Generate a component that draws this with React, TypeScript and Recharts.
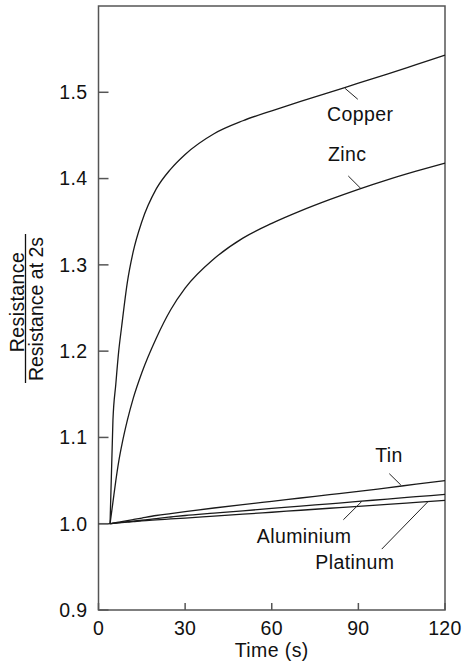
import {
  LineChart,
  Line,
  XAxis,
  YAxis,
  ReferenceArea,
  ReferenceLine,
  ReferenceDot,
} from "recharts";

// time in seconds, shared by every series
const times = [0, 4, 5, 6, 7, 8, 10, 12, 15, 20, 25, 30, 40, 50, 60, 70, 80, 90, 100, 110, 120];

// flat lead-in before the samples start to change
const baseline = [1.0, 1.0, null, null, null, null, null, null, null, null, null, null, null, null, null, null, null, null, null, null, null];
const copper = [null, 1.0, 1.12, 1.162, 1.2, 1.228, 1.28, 1.315, 1.35, 1.388, 1.411, 1.428, 1.452, 1.467, 1.4785, 1.4895, 1.5, 1.5105, 1.521, 1.532, 1.543];
const zinc = [null, 1.0, 1.025, 1.05, 1.072, 1.09, 1.12, 1.145, 1.175, 1.215, 1.248, 1.273, 1.307, 1.331, 1.348, 1.3625, 1.3755, 1.3875, 1.3985, 1.4085, 1.418];
const tin = [null, 1.0, 1.0006, 1.0012, 1.0018, 1.0024, 1.0036, 1.0048, 1.0066, 1.0095, 1.0118, 1.014, 1.0182, 1.0222, 1.026, 1.0298, 1.0336, 1.0374, 1.0416, 1.0458, 1.05];
const aluminium = [null, 1.0, 1.0004, 1.0008, 1.0012, 1.0016, 1.0024, 1.003, 1.004, 1.006, 1.0078, 1.0095, 1.0122, 1.0149, 1.0177, 1.0204, 1.0231, 1.0258, 1.0286, 1.0313, 1.034];
const platinum = [null, 1.0, 1.0003, 1.0006, 1.0009, 1.0012, 1.0018, 1.0024, 1.0034, 1.0045, 1.0055, 1.0065, 1.0088, 1.011, 1.0133, 1.0156, 1.0179, 1.0202, 1.0224, 1.0247, 1.027];

const xTicks = [0, 30, 60, 90, 120];
const yTicks = [0.9, 1.0, 1.1, 1.2, 1.3, 1.4, 1.5];

const data = times.map((t, i) => ({
  t,
  baseline: baseline[i],
  copper: copper[i],
  zinc: zinc[i],
  tin: tin[i],
  aluminium: aluminium[i],
  platinum: platinum[i],
}));

// curve names with their leader lines, in data units
const annotations = [
  { name: "Copper", at: [90.6, 1.4745], from: [85.4, 1.5045], to: [89.8, 1.4919] },
  { name: "Zinc", at: [86.1, 1.428], from: [86.5, 1.403], to: [90.9, 1.3883] },
  { name: "Tin", at: [100.6, 1.08], from: [100.7, 1.058], to: [104.7, 1.0449] },
  { name: "Aluminium", at: [71.2, 0.986], from: [84.8, 1.0046], to: [91.2, 1.0259] },
  { name: "Platinum", at: [88.8, 0.955], from: [98.1, 0.9706], to: [114.2, 1.0259] },
];

const FONT = "'Liberation Sans', Arial, Helvetica, sans-serif";
const FONT_SIZE = 19.5;
const INK = "#111";
const AXIS = "#555";

const textStyle = { fontFamily: FONT, fontSize: FONT_SIZE, letterSpacing: 0.4 };

// "Resistance / Resistance at 2s" written as a fraction, rotated
const FractionLabel = () => (
  <g>
    <text
      transform="translate(23.5, 302) rotate(-90)"
      textAnchor="middle"
      fill={INK}
      style={textStyle}
    >
      Resistance
    </text>
    <line x1={25.5} x2={25.5} y1={234} y2={383} stroke={INK} strokeWidth={1.3} />
    <text
      transform="translate(42.5, 309) rotate(-90)"
      textAnchor="middle"
      fill={INK}
      style={{ ...textStyle, letterSpacing: 0 }}
    >
      Resistance at 2s
    </text>
  </g>
);

const series = ["baseline", "copper", "zinc", "tin", "aluminium", "platinum"];

export default function App() {
  return (
    <div style={{ position: "absolute", left: 0, top: 0, background: "#fff" }}>
      <LineChart
        width={465}
        height={664}
        data={data}
        margin={{ top: 6, right: 20, bottom: 0, left: 0 }}
      >
        <XAxis
          dataKey="t"
          type="number"
          domain={[0, 120]}
          ticks={xTicks}
          axisLine={false}
          tickSize={-7}
          tickMargin={18.5}
          tickLine={{ stroke: AXIS, strokeWidth: 1.5 }}
          tick={{ fill: INK, ...textStyle }}
          height={54}
          label={{
            value: "Time (s)",
            position: "insideBottom",
            offset: 7,
            fill: INK,
            style: textStyle,
          }}
        />
        <YAxis
          type="number"
          domain={[0.9, 1.6]}
          ticks={yTicks}
          axisLine={false}
          tickSize={-10}
          tickMargin={21}
          tickLine={{ stroke: AXIS, strokeWidth: 1.5 }}
          tick={{ fill: INK, ...textStyle }}
          tickFormatter={(v: number) => v.toFixed(1)}
          width={98.5}
          allowDataOverflow
          label={<FractionLabel />}
        />

        <ReferenceArea
          x1={0}
          x2={120}
          y1={0.9}
          y2={1.6}
          fill="none"
          fillOpacity={0}
          stroke={AXIS}
          strokeWidth={1.5}
        />

        {series.map((key) => (
          <Line
            key={key}
            type={key === "baseline" ? "linear" : "monotone"}
            dataKey={key}
            stroke="#1a1a1a"
            strokeWidth={1.3}
            dot={false}
            activeDot={false}
            isAnimationActive={false}
          />
        ))}

        {annotations.map((a) => (
          <ReferenceLine
            key={a.name + "-leader"}
            segment={[
              { x: a.from[0], y: a.from[1] },
              { x: a.to[0], y: a.to[1] },
            ]}
            stroke="#222"
            strokeWidth={1}
          />
        ))}
        {annotations.map((a) => (
          <ReferenceDot
            key={a.name}
            x={a.at[0]}
            y={a.at[1]}
            r={0}
            fill="none"
            stroke="none"
            label={{
              value: a.name,
              position: "center",
              fill: INK,
              style: textStyle,
            }}
          />
        ))}
      </LineChart>
    </div>
  );
}
